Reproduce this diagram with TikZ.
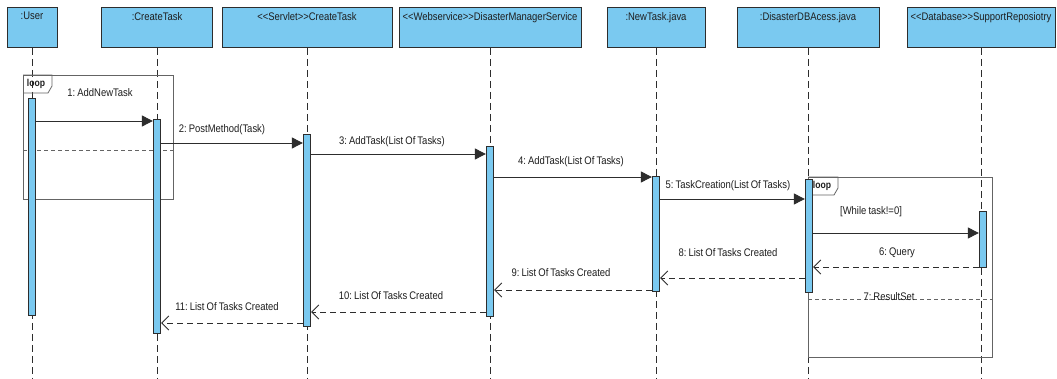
\documentclass[tikz,border=0pt]{standalone}
\usepackage{fontspec}
\setmainfont[FakeStretch=0.86, WordSpace=0.8]{Liberation Sans}
\usetikzlibrary{arrows.meta,calc}
\definecolor{lifefill}{RGB}{122,201,240}
\definecolor{edge}{RGB}{45,45,45}
\definecolor{framegray}{RGB}{100,100,100}
\definecolor{txt}{RGB}{30,30,30}
\frenchspacing

\begin{document}
\begin{tikzpicture}[x=1pt,y=-1pt,
  font=\fontsize{11}{13}\selectfont, text=txt,
  head/.style={draw=edge, fill=lifefill, line width=0.9pt, inner sep=0pt,
               minimum height=40pt, anchor=north},
  headtext/.style={anchor=north, inner sep=0pt},
  lifeline/.style={draw=edge, line width=0.7pt, dash pattern=on 7pt off 4pt},
  actbar/.style={draw=edge, fill=lifefill, line width=0.8pt, inner sep=0pt,
                 minimum width=7.5pt, anchor=north},
  frame/.style={draw=framegray, line width=1pt, inner sep=0pt, anchor=north west},
  tag/.style={font=\bfseries\fontsize{10}{11}\selectfont, inner sep=0pt},
  sep/.style={draw=framegray, line width=0.8pt, dash pattern=on 4pt off 3pt},
  sync/.style={draw=edge, line width=0.9pt, -{Triangle[length=11pt,width=11pt]}},
  ret/.style={draw=edge, line width=0.9pt, dash pattern=on 6pt off 4pt,
              -{Straight Barb[length=7pt,width=14pt,line width=0.9pt]}},
  lbl/.style={inner sep=0pt}
]
\useasboundingbox (0,0) rectangle (1057,379);
\fill[white] (0,0) rectangle (1057,379);

% participants
\node[head, minimum width=50pt]  (hUser) at (32,7)  {};
\node[head, minimum width=111pt] (hCT)   at (157,7) {};
\node[head, minimum width=170pt] (hSrv)  at (307,7) {};
\node[head, minimum width=182pt] (hWS)   at (490,7) {};
\node[head, minimum width=98pt]  (hNT)   at (656,7) {};
\node[head, minimum width=142pt] (hDBA)  at (808,7) {};
\node[head, minimum width=148pt] (hRep)  at (981,7) {};

\node[headtext] (tUser) at ($(hUser.north)+(0,5)$) {:User};
\node[headtext] (tCT)   at ($(hCT.north)+(0,5)$)   {:CreateTask};
\node[headtext] (tSrv)  at ($(hSrv.north)+(0,5)$)  {<{}<Servlet>{}>CreateTask};
\node[headtext] (tWS)   at ($(hWS.north)+(0,5)$)   {<{}<Webservice>{}>DisasterManagerService};
\node[headtext] (tNT)   at ($(hNT.north)+(0,5)$)   {:NewTask.java};
\node[headtext] (tDBA)  at ($(hDBA.north)+(0,5)$)  {:DisasterDBAcess.java};
\node[headtext] (tRep)  at ($(hRep.north)+(0,5)$)  {<{}<Database>{}>SupportReposiotry};

% lifelines
\foreach \h in {hUser,hCT,hSrv,hWS,hNT,hDBA,hRep}
  \draw[lifeline] (\h.south) -- (\h.south |- 0,379);

% combined fragments
\node[frame, minimum width=150pt, minimum height=124pt] (loopA) at (23,75) {};
\draw[draw=framegray, line width=0.8pt] (loopA.north west) -- ++(29,0) -- ++(0,11) -- ++(-4,7) -- ++(-25,0);
\node[tag] (loopAtag) at ($(loopA.north west)+(13,8.5)$) {loop};
\draw[sep] (loopA.west |- 0,150) -- (loopA.east |- 0,150);

\node[frame, minimum width=184pt, minimum height=180pt] (loopB) at (808,177) {};
\draw[draw=framegray, line width=0.8pt] (loopB.north west) -- ++(30,0) -- ++(0,11) -- ++(-4,7) -- ++(-26,0);
\node[tag] (loopBtag) at ($(loopB.north west)+(14,8.5)$) {loop};

% activations
\node[actbar, minimum height=217pt] (aUser) at (32,98)  {};
\node[actbar, minimum height=214pt] (aCT)   at (157,119) {};
\node[actbar, minimum height=192pt] (aSrv)  at (307,134) {};
\node[actbar, minimum height=170pt] (aWS)   at (490,146) {};
\node[actbar, minimum height=115pt] (aNT)   at (656,176) {};
\node[actbar, minimum height=113pt] (aDBA)  at (809,179) {};
\node[actbar, minimum height=56pt]  (aRep)  at (983,211) {};

% calls
\draw[sync] (aUser.east |- 0,121) -- (aCT.west |- 0,121);
\draw[sync] (aCT.east |- 0,143)   -- (aSrv.west |- 0,143);
\draw[sync] (aSrv.east |- 0,154)  -- (aWS.west |- 0,154);
\draw[sync] (aWS.east |- 0,177)   -- (aNT.west |- 0,177);
\draw[sync] (aNT.east |- 0,199)   -- (aDBA.west |- 0,199);
\draw[sync] (aDBA.east |- 0,233)  -- (aRep.west |- 0,233);

% replies
\draw[ret] (aRep.west |- 0,267) -- (aDBA.east |- 0,267);
\draw[ret] (aDBA.west |- 0,278) -- (aNT.east |- 0,278);
\draw[ret] (aNT.west |- 0,290)  -- (aWS.east |- 0,290);
\draw[ret] (aWS.west |- 0,312)  -- (aSrv.east |- 0,312);
\draw[ret] (aSrv.west |- 0,323) -- (aCT.east |- 0,323);

% loop operand separator with its message text
\draw[sep] (loopB.west |- 0,299) -- (loopB.east |- 0,299);
\node[lbl] (m7) at (889,297) {7: ResultSet};

% message texts
\node[lbl] (m1)  at (100,93)  {1: AddNewTask};
\node[lbl] (m2)  at (222,130) {2: PostMethod(Task)};
\node[lbl] (m3)  at (392,142) {3: AddTask(List Of Tasks)};
\node[lbl] (m4)  at (571,162) {4: AddTask(List Of Tasks)};
\node[lbl] (m5)  at (728,186) {5: TaskCreation(List Of Tasks)};
\node[lbl] (mw)  at (871,212) {[While task!=0]};
\node[lbl] (m6)  at (897,253) {6: Query};
\node[lbl] (m8)  at (728,253) {8: List Of Tasks Created};
\node[lbl] (m9)  at (561,273) {9: List Of Tasks Created};
\node[lbl] (m10) at (391,296) {10: List Of Tasks Created};
\node[lbl] (m11) at (227,307) {11: List Of Tasks Created};
\end{tikzpicture}
\end{document}
